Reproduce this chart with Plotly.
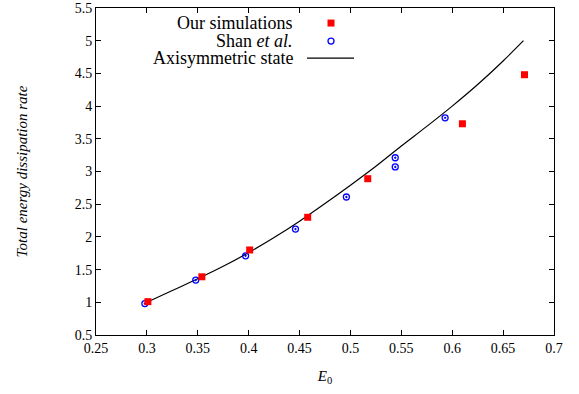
import plotly.graph_objects as go

# Our simulations (red squares)
sim_x = [0.301, 0.354, 0.401, 0.458, 0.517, 0.610, 0.671]
sim_y = [1.01, 1.39, 1.80, 2.30, 2.89, 3.73, 4.48]

# Shan et al. (blue circles)
shan_x = [0.298, 0.348, 0.397, 0.446, 0.496, 0.544, 0.544, 0.593]
shan_y = [0.98, 1.34, 1.71, 2.12, 2.61, 3.21, 3.07, 3.82]

# Axisymmetric state (line)
axi_x = [0.30, 0.325, 0.35, 0.375, 0.40, 0.425, 0.45, 0.475, 0.50, 0.525,
         0.55, 0.575, 0.60, 0.625, 0.65, 0.67]
axi_y = [1.00, 1.18, 1.36, 1.55, 1.76, 1.99, 2.24, 2.51, 2.79, 3.08,
         3.39, 3.69, 4.00, 4.33, 4.69, 5.00]

x_ticks = [0.25, 0.3, 0.35, 0.4, 0.45, 0.5, 0.55, 0.6, 0.65, 0.7]
y_ticks = [0.5, 1, 1.5, 2, 2.5, 3, 3.5, 4, 4.5, 5, 5.5]

legend_labels = ["Our simulations", "Shan <i>et al.</i>", "Axisymmetric state"]

FONT = "'Liberation Serif', 'DejaVu Serif', serif"

fig = go.Figure()
fig.add_trace(go.Scatter(x=axi_x, y=axi_y, mode="lines",
                         line=dict(color="black", width=1.2, shape="spline"),
                         name=legend_labels[2], showlegend=False))
fig.add_trace(go.Scatter(x=shan_x, y=shan_y, mode="markers",
                         marker=dict(symbol="circle-open-dot", size=6,
                                     color="blue", line=dict(width=1.3, color="blue")),
                         name=legend_labels[1], showlegend=False))
fig.add_trace(go.Scatter(x=sim_x, y=sim_y, mode="markers",
                         marker=dict(symbol="square", size=7, color="red"),
                         name=legend_labels[0], showlegend=False))

axis_common = dict(showgrid=False, zeroline=False, showline=True, linecolor="black",
                   linewidth=1, mirror="ticks", ticks="inside", ticklen=5,
                   automargin=False,
                   tickcolor="black", tickfont=dict(family=FONT, size=14, color="black"))

fig.update_xaxes(range=[0.25, 0.7], tickvals=x_ticks,
                 ticktext=[f"{v:g}" for v in x_ticks],
                 title=dict(text="<i>E</i><sub>0</sub>", font=dict(family=FONT, size=15, color="black"),
                            standoff=15),
                 **axis_common)
fig.update_yaxes(range=[0.5, 5.5], tickvals=y_ticks,
                 ticktext=[f"{v:g}" for v in y_ticks],
                 title=dict(text="<i>Total energy dissipation rate</i>",
                            font=dict(family=FONT, size=15, color="black"), standoff=43),
                 **axis_common)

# custom legend (text right-aligned, key to the right), gnuplot style
leg_y = [0.954, 0.899, 0.847]
text_right = (295 - 96) / 458
key_x = (331 - 96) / 458
for i, lab in enumerate(legend_labels):
    fig.add_annotation(x=text_right, y=leg_y[i], xref="paper", yref="paper",
                       text=lab, showarrow=False, xanchor="right", yanchor="middle",
                       font=dict(family=FONT, size=18, color="black"))
# keys
px = 1 / 458
py = 1 / 327
fig.add_shape(type="rect", xref="paper", yref="paper",
              x0=key_x - 3.5 * px, x1=key_x + 3.5 * px,
              y0=leg_y[0] - 3.5 * py, y1=leg_y[0] + 3.5 * py,
              fillcolor="red", line=dict(width=0))
fig.add_shape(type="circle", xref="paper", yref="paper",
              x0=key_x - 3 * px, x1=key_x + 3 * px,
              y0=leg_y[1] - 3 * py, y1=leg_y[1] + 3 * py,
              line=dict(color="blue", width=1.3))
fig.add_shape(type="line", xref="paper", yref="paper",
              x0=(307 - 96) / 458, x1=(354 - 96) / 458,
              y0=leg_y[2], y1=leg_y[2], line=dict(color="black", width=1.2))

fig.update_layout(width=579, height=394,
                  margin=dict(l=96, r=25, t=8, b=59),
                  plot_bgcolor="white", paper_bgcolor="white",
                  font=dict(family=FONT, color="black"))

fig.write_html("out.html")
